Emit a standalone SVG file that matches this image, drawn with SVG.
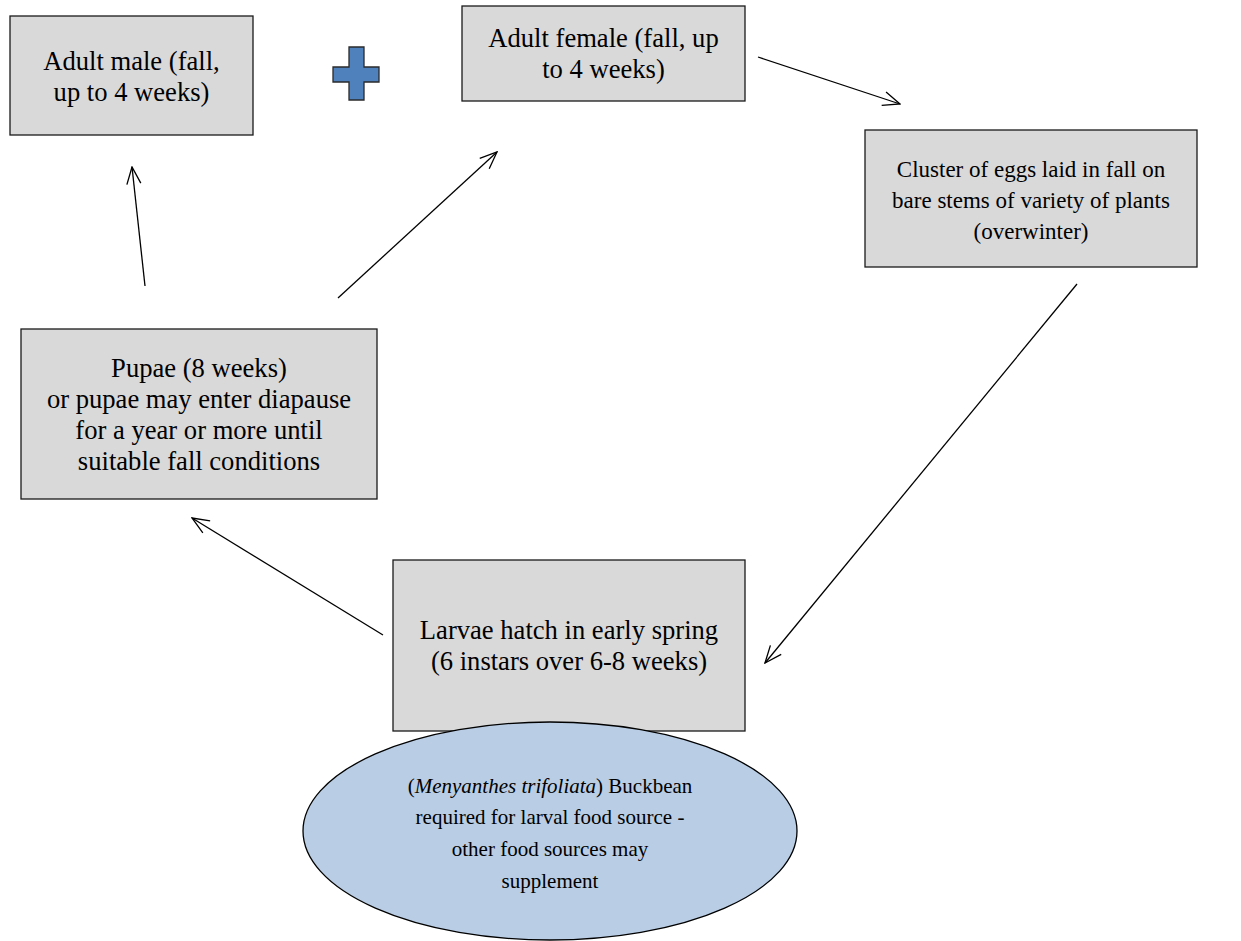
<svg xmlns="http://www.w3.org/2000/svg" width="1241" height="941" viewBox="0 0 1241 941">
<style>
.box{fill:#d9d9d9;stroke:#1a1a1a;stroke-width:1.3}
.t{font-family:"Liberation Serif","Times New Roman",Tinos,serif;font-size:26.6px;fill:#000;text-anchor:middle}
.s{font-size:23px}
.e{font-size:21px}
.c{stroke:#000;stroke-width:1.3;fill:none;marker-end:url(#ah)}
</style>
<defs>
<marker id="ah" viewBox="0 0 20 20" refX="19" refY="10" markerWidth="20" markerHeight="20" markerUnits="userSpaceOnUse" orient="auto">
<path d="M2,3 L19,10 L2,17" fill="none" stroke="#000" stroke-width="1.3"/>
</marker>
</defs>
<rect width="1241" height="941" fill="#fff"/>
<g id="connectors">
<line class="c" x1="145" y1="286" x2="132" y2="167"/>
<line class="c" x1="338" y1="298" x2="497" y2="152"/>
<line class="c" x1="758" y1="57" x2="900" y2="104"/>
<line class="c" x1="1077" y1="284" x2="765" y2="663"/>
<line class="c" x1="383" y1="635" x2="192" y2="518"/>
</g>
<g id="adult-male">
<rect class="box" x="10" y="16" width="243" height="119"/>
<text class="t" x="131.5" y="70">Adult male (fall,</text>
<text class="t" x="131.5" y="101">up to 4 weeks)</text>
</g>
<g id="plus">
<path d="M349,47 H364 V67 H379 V82 H364 V100 H349 V82 H333 V67 H349 Z" fill="#4f81bd" stroke="#2a2a2a" stroke-width="1.3"/>
</g>
<g id="adult-female">
<rect class="box" x="462" y="6" width="283" height="95"/>
<text class="t" x="603.5" y="47">Adult female (fall, up</text>
<text class="t" x="603.5" y="78">to 4 weeks)</text>
</g>
<g id="eggs">
<rect class="box" x="865" y="130" width="332" height="137"/>
<text class="t s" x="1031" y="177">Cluster of eggs laid in fall on</text>
<text class="t s" x="1031" y="208">bare stems of variety of plants</text>
<text class="t s" x="1031" y="239">(overwinter)</text>
</g>
<g id="pupae">
<rect class="box" x="21" y="329" width="356" height="170"/>
<text class="t" x="199" y="377">Pupae (8 weeks)</text>
<text class="t" x="199" y="408">or pupae may enter diapause</text>
<text class="t" x="199" y="439">for a year or more until</text>
<text class="t" x="199" y="470">suitable fall conditions</text>
</g>
<g id="larvae">
<rect class="box" x="393" y="560" width="352" height="171"/>
<text class="t" x="569" y="639">Larvae hatch in early spring</text>
<text class="t" x="569" y="670">(6 instars over 6-8 weeks)</text>
</g>
<g id="buckbean">
<ellipse cx="550" cy="831" rx="247" ry="109" fill="#b9cde5" stroke="#000" stroke-width="1.3"/>
<text class="t e" x="550" y="793">(<tspan font-style="italic">Menyanthes trifoliata</tspan>) Buckbean</text>
<text class="t e" x="550" y="824">required for larval food source -</text>
<text class="t e" x="550" y="856">other food sources may</text>
<text class="t e" x="550" y="888">supplement</text>
</g>
</svg>
